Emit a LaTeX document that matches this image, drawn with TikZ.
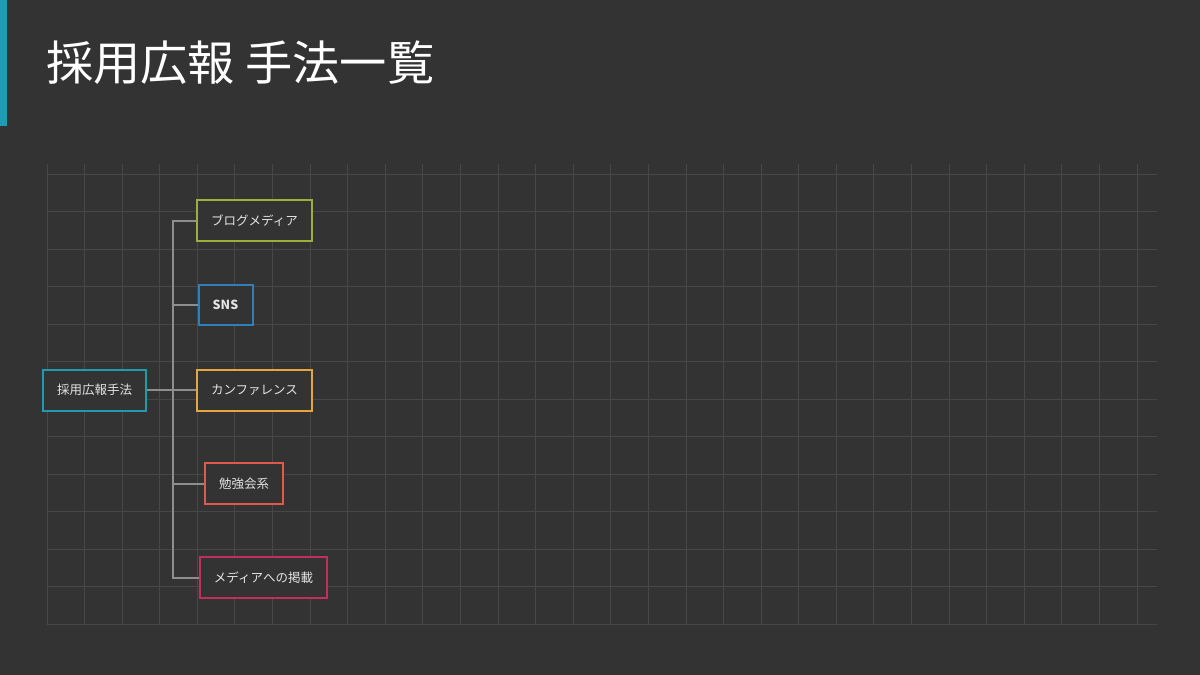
\documentclass[tikz,border=0pt]{standalone}
\usepackage{fontspec}
\setmainfont{Noto Sans CJK JP}
\newfontfamily\jpfont{Noto Sans CJK JP}
\usetikzlibrary{calc}
\definecolor{bgc}{HTML}{333333}
\definecolor{gridc}{HTML}{474747}
\definecolor{accent}{HTML}{1A9EB3}
\definecolor{linec}{HTML}{8E8E8E}
\definecolor{txtc}{HTML}{E4E4E4}
\definecolor{cteal}{HTML}{1E9BB0}
\definecolor{cgreen}{HTML}{9BB03A}
\definecolor{cblue}{HTML}{2F80B8}
\definecolor{corange}{HTML}{E8A53C}
\definecolor{cred}{HTML}{E05A4A}
\definecolor{ccrim}{HTML}{C0305A}
\tikzset{
  topicbox/.style={draw=#1, line width=2pt, fill=bgc, text=txtc,
    minimum height=41pt, inner sep=0pt, font=\jpfont\fontsize{12.5pt}{14pt}\selectfont},
  conn/.style={draw=linec, line width=2pt},
  gridline/.style={draw=gridc, line width=1pt}
}
\begin{document}
\begin{tikzpicture}[x=1pt,y=-1pt]
\fill[bgc] (0,0) rectangle (1200,675);
\useasboundingbox (0,0) rectangle (1200,675);
\fill[accent] (0,0) rectangle (7,126);
% grid
\foreach \i in {0,...,29} {
  \draw[gridline] ({47+\i*37.59},164) -- ({47+\i*37.59},625);
}
\foreach \j in {0,...,12} {
  \draw[gridline] (47,{174+\j*37.5}) -- (1157,{174+\j*37.5});
}
% title
\node[anchor=west, inner sep=0pt, text=white, font=\jpfont\fontsize{47.2pt}{50pt}\selectfont] (title) at (46,63) {採用広報 手法一覧};
% nodes
\node[topicbox=cteal, minimum width=103pt] (root) at (94.5,390) {採用広報手法};
\node[topicbox=cgreen, minimum width=115pt] (blog) at (254.5,220.5) {ブログメディア};
\node[topicbox=cblue, minimum width=54pt, minimum height=40pt, font=\jpfont\bfseries\fontsize{12.5pt}{14pt}\selectfont] (sns) at (225.5,305) {SNS};
\node[topicbox=corange, minimum width=115pt] (conf) at (254.5,390) {カンファレンス};
\node[topicbox=cred, minimum width=78pt] (study) at (244,483.5) {勉強会系};
\node[topicbox=ccrim, minimum width=127pt] (media) at (263.5,577.5) {メディアへの掲載};
% connectors
\coordinate (bus) at ($(root.east)+(26,0)$);
\foreach \c in {blog,sns,conf,study,media} {
  \draw[conn] (root.east) -| (bus) |- (\c.west);
}
\end{tikzpicture}
\end{document}
